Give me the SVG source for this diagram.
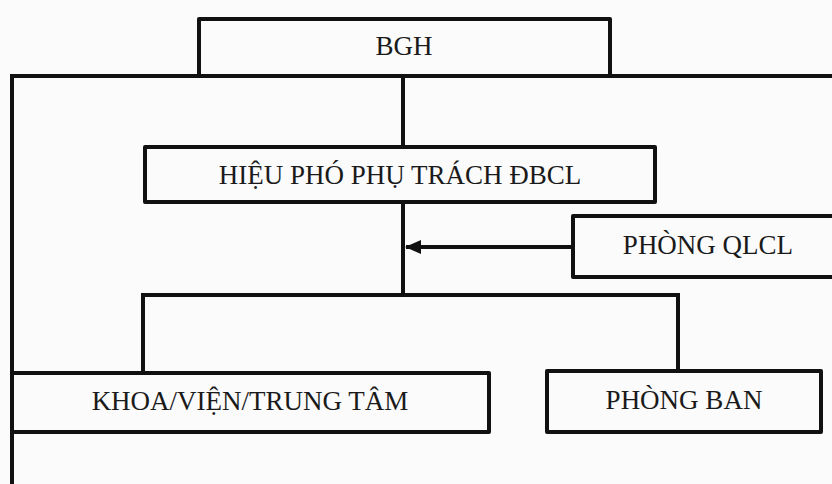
<svg xmlns="http://www.w3.org/2000/svg" width="832" height="484" viewBox="0 0 832 484">
  <style>
    .box { fill: none; stroke: #111; stroke-width: 4; stroke-linejoin: round; }
    .ln { fill: none; stroke: #111; stroke-width: 4; stroke-linecap: square; }
    .lbl { font-family: "Liberation Serif", "Times New Roman", serif; font-size: 27px; fill: #1a1a1a; text-anchor: middle; }
  </style>
  <defs>
    <marker id="arrow" viewBox="0 0 16 14" refX="15" refY="7" markerWidth="16" markerHeight="14" markerUnits="userSpaceOnUse" orient="auto">
      <path d="M0,0 L16,7 L0,14 Z" fill="#111"/>
    </marker>
  </defs>
  <rect width="832" height="484" fill="#fbfbfb"/>

  <g id="connectors">
    <path class="ln" d="M12,484 L12,76 L834,76"/>
    <path class="ln" d="M403,76 L403,147"/>
    <path class="ln" d="M403,202 L403,295"/>
    <path class="ln" d="M143,373 L143,295 L678,295 L678,371"/>
    <line x1="573" y1="247" x2="406" y2="247" stroke="#111" stroke-width="4" marker-end="url(#arrow)"/>
  </g>

  <g id="bgh">
    <rect class="box" x="199" y="19" width="411" height="57"/>
    <text class="lbl" x="404" y="55">BGH</text>
  </g>

  <g id="hieu-pho">
    <rect class="box" x="145" y="147" width="510" height="55"/>
    <text class="lbl" x="400" y="184">HIỆU PHÓ PHỤ TRÁCH ĐBCL</text>
  </g>

  <g id="phong-qlcl">
    <rect class="box" x="573" y="216" width="270" height="61"/>
    <text class="lbl" x="708" y="254">PHÒNG QLCL</text>
  </g>

  <g id="khoa">
    <rect class="box" x="12" y="373" width="477" height="59"/>
    <text class="lbl" x="250" y="410">KHOA/VIỆN/TRUNG TÂM</text>
  </g>

  <g id="phong-ban">
    <rect class="box" x="547" y="371" width="274" height="61"/>
    <text class="lbl" x="684" y="409">PHÒNG BAN</text>
  </g>
</svg>
